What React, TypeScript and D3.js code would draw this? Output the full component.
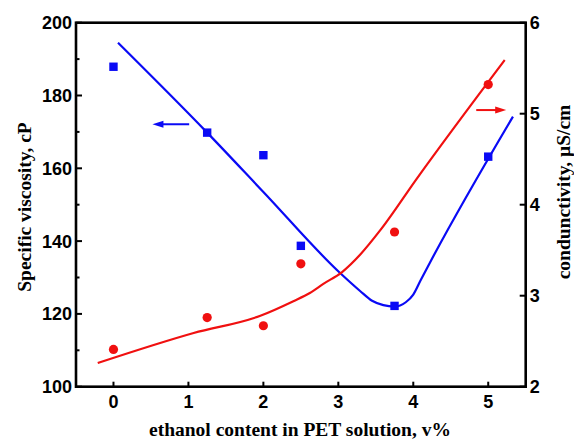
import React, { useRef, useEffect } from 'react';
import * as d3 from 'd3';

// measured data (ethanol content, v%)
const ethanol = [0, 1.25, 2, 2.5, 3.75, 5];
const viscosity = [187.9, 169.8, 163.6, 138.7, 122.2, 163.2];
const conductivity = [2.41, 2.76, 2.67, 3.35, 3.7, 5.32];

// guide-to-the-eye curves
const viscFitX = [0.06, 1.25, 2.0, 3.02, 3.29, 3.45, 3.6, 3.75, 3.9, 4.0, 4.1, 4.22, 5.33];
const viscFitY = [194.5, 169.8, 153.5, 131.3, 126.3, 123.6, 122.4, 122.0, 123.2, 125.3, 129.3, 134.0, 174.2];
const condFitX = [-0.21, 1.07, 1.96, 2.4, 2.62, 2.8, 3.05, 3.29, 3.56, 4.05, 5.22];
const condFitY = [2.26, 2.59, 2.78, 2.94, 3.03, 3.13, 3.26, 3.45, 3.72, 4.29, 5.59];

const xTicks = [0, 1, 2, 3, 4, 5];
const viscTicks = [100, 120, 140, 160, 180, 200];
const viscMinor = [110, 130, 150, 170, 190];
const condTicks = [2, 3, 4, 5, 6];

const BLUE = '#0a0af5';
const RED = '#f01010';

const App = () => {
  const svgRef = useRef(null);

  useEffect(() => {
    const width = 574, height = 440;
    const left = 76, right = 525.7, top = 22.7, bottom = 386.7;

    const svg = d3.select(svgRef.current)
      .attr('width', width)
      .attr('height', height);
    svg.selectAll('*').remove();

    const x = d3.scaleLinear().domain([-0.5, 5.5]).range([left, right]);
    const yL = d3.scaleLinear().domain([100, 200]).range([bottom, top]);
    const yR = d3.scaleLinear().domain([2, 6]).range([bottom, top]);

    const tickFont = "bold 18px 'Liberation Sans', Arial, sans-serif";
    const titleFont = "bold 19.5px 'Liberation Serif', 'Times New Roman', serif";

    // ticks (inward)
    const ticks = svg.append('g').attr('stroke', '#000').attr('stroke-width', 2);
    xTicks.forEach(t => {
      ticks.append('line').attr('x1', x(t)).attr('x2', x(t)).attr('y1', bottom).attr('y2', bottom - 5);
    });
    viscTicks.forEach(t => {
      ticks.append('line').attr('x1', left).attr('x2', left + 6).attr('y1', yL(t)).attr('y2', yL(t));
    });
    viscMinor.forEach(t => {
      ticks.append('line').attr('x1', left).attr('x2', left + 3.5).attr('y1', yL(t)).attr('y2', yL(t));
    });
    condTicks.forEach(t => {
      ticks.append('line').attr('x1', right).attr('x2', right - 6).attr('y1', yR(t)).attr('y2', yR(t));
    });

    // frame
    svg.append('rect')
      .attr('x', left).attr('y', top)
      .attr('width', right - left).attr('height', bottom - top)
      .attr('fill', 'none').attr('stroke', '#000').attr('stroke-width', 2.6);

    // tick labels
    svg.append('g').selectAll('text').data(xTicks).join('text')
      .attr('x', d => x(d)).attr('y', bottom + 21)
      .attr('text-anchor', 'middle').style('font', tickFont)
      .text(d => d);
    svg.append('g').selectAll('text').data(viscTicks).join('text')
      .attr('x', left - 4).attr('y', d => yL(d) + 6.5)
      .attr('text-anchor', 'end').style('font', tickFont)
      .text(d => d);
    svg.append('g').selectAll('text').data(condTicks).join('text')
      .attr('x', right + 4).attr('y', d => yR(d) + 6.5)
      .attr('text-anchor', 'start').style('font', tickFont)
      .text(d => d);

    // axis titles
    svg.append('text')
      .attr('x', 300).attr('y', 436)
      .attr('text-anchor', 'middle').style('font', titleFont)
      .text('ethanol content in PET solution, v%');
    svg.append('text')
      .attr('transform', `translate(31,207) rotate(-90)`)
      .attr('text-anchor', 'middle').style('font', titleFont)
      .text('Specific viscosity, cP');
    svg.append('text')
      .attr('transform', `translate(570,192) rotate(-90)`)
      .attr('text-anchor', 'middle').style('font', titleFont)
      .text('condunctivity, \u03bcS/cm');

    // curves
    const lineL = d3.line().curve(d3.curveMonotoneX).x(d => x(d[0])).y(d => yL(d[1]));
    const lineR = d3.line().curve(d3.curveMonotoneX).x(d => x(d[0])).y(d => yR(d[1]));
    svg.append('path')
      .datum(viscFitX.map((v, i) => [v, viscFitY[i]]))
      .attr('fill', 'none').attr('stroke', BLUE).attr('stroke-width', 2.2)
      .attr('stroke-linejoin', 'round')
      .attr('d', lineL);
    svg.append('path')
      .datum(condFitX.map((v, i) => [v, condFitY[i]]))
      .attr('fill', 'none').attr('stroke', RED).attr('stroke-width', 2.2)
      .attr('stroke-linejoin', 'round')
      .attr('d', lineR);

    // markers
    svg.append('g').selectAll('rect').data(ethanol).join('rect')
      .attr('x', d => x(d) - 4.2).attr('y', (d, i) => yL(viscosity[i]) - 4.2)
      .attr('width', 8.4).attr('height', 8.4)
      .attr('fill', BLUE);
    svg.append('g').selectAll('circle').data(ethanol).join('circle')
      .attr('cx', d => x(d)).attr('cy', (d, i) => yR(conductivity[i]))
      .attr('r', 4.6)
      .attr('fill', RED);

    // arrows pointing to the matching axis
    const arrow = (x1, x2, yy, color) => {
      const dir = Math.sign(x2 - x1);
      svg.append('line')
        .attr('x1', x1).attr('x2', x2 - dir * 6).attr('y1', yy).attr('y2', yy)
        .attr('stroke', color).attr('stroke-width', 2);
      svg.append('path')
        .attr('d', `M${x2},${yy} L${x2 - dir * 11},${yy - 3.5} L${x2 - dir * 11},${yy + 3.5} Z`)
        .attr('fill', color);
    };
    arrow(x(1.01), x(0.52), yL(172.1), BLUE);
    arrow(x(4.84), x(5.24), yR(5.04), RED);
  }, []);

  return (
    <svg ref={svgRef} style={{ position: 'absolute', left: 0, top: 0, background: '#fff' }}></svg>
  );
};

export default App;
